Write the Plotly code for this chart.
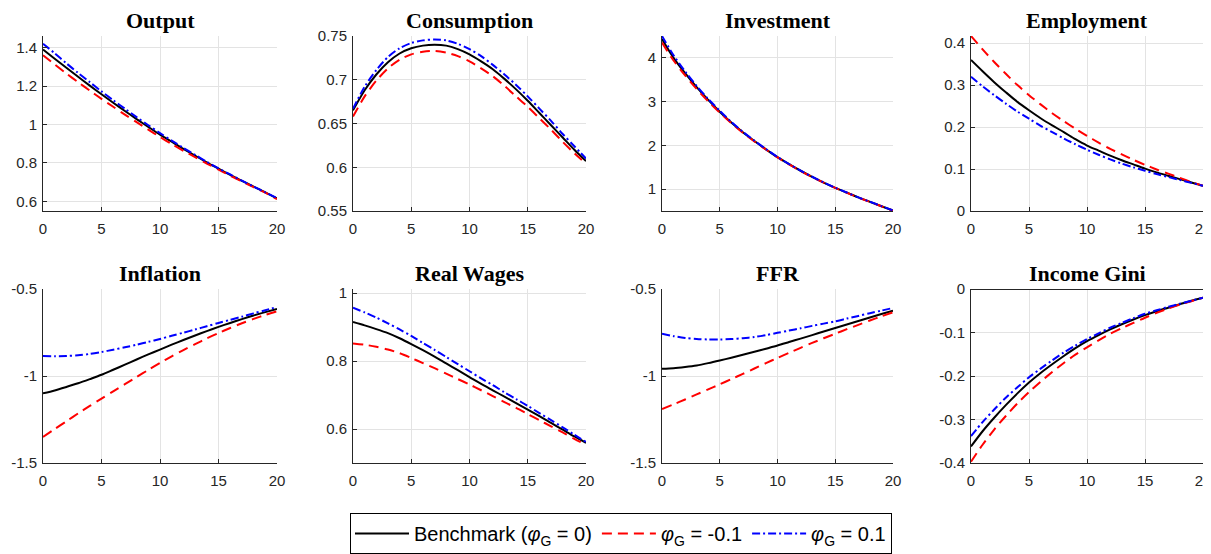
import plotly.graph_objects as go

horizon = list(range(21))
titles = ["Output", "Consumption", "Investment", "Employment",
          "Inflation", "Real Wages", "FFR", "Income Gini"]

# Benchmark (phi_G = 0), phi_G = -0.1, phi_G = 0.1
output_bench = [1.39,1.342,1.295,1.248,1.202,1.157,1.113,1.07,1.028,0.987,0.947,0.91,0.873,0.838,0.803,0.77,0.738,0.707,0.677,0.647,0.615]
output_neg = [1.36,1.312,1.265,1.22,1.176,1.133,1.092,1.051,1.012,0.973,0.935,0.898,0.863,0.83,0.797,0.765,0.734,0.704,0.674,0.645,0.612]
output_pos = [1.42,1.37,1.318,1.268,1.22,1.172,1.126,1.082,1.038,0.996,0.955,0.916,0.878,0.842,0.806,0.772,0.74,0.708,0.677,0.647,0.617]

cons_bench = [0.665,0.688,0.706,0.72,0.73,0.736,0.739,0.74,0.739,0.735,0.729,0.721,0.712,0.701,0.689,0.676,0.662,0.648,0.634,0.62,0.607]
cons_neg = [0.658,0.681,0.699,0.713,0.723,0.729,0.732,0.733,0.731,0.727,0.721,0.713,0.704,0.693,0.681,0.669,0.656,0.643,0.629,0.616,0.604]
cons_pos = [0.667,0.692,0.711,0.726,0.736,0.742,0.745,0.746,0.745,0.741,0.735,0.727,0.717,0.706,0.694,0.681,0.667,0.653,0.638,0.624,0.61]

inv_bench = [4.43,4.0,3.65,3.33,3.04,2.77,2.52,2.3,2.1,1.91,1.73,1.57,1.42,1.28,1.15,1.03,0.92,0.81,0.71,0.61,0.51]
inv_neg = [4.35,3.94,3.6,3.29,3.01,2.75,2.51,2.29,2.09,1.905,1.725,1.565,1.415,1.275,1.147,1.027,0.917,0.808,0.708,0.608,0.508]
inv_pos = [4.5,4.06,3.69,3.36,3.06,2.79,2.535,2.31,2.108,1.915,1.735,1.573,1.423,1.283,1.152,1.032,0.922,0.812,0.712,0.612,0.512]

emp_bench = [0.36,0.333,0.307,0.283,0.26,0.24,0.221,0.204,0.188,0.171,0.156,0.144,0.132,0.121,0.111,0.101,0.092,0.084,0.076,0.068,0.06]
emp_neg = [0.417,0.385,0.355,0.327,0.3,0.276,0.254,0.233,0.214,0.196,0.179,0.163,0.148,0.135,0.122,0.11,0.099,0.089,0.079,0.069,0.06]
emp_pos = [0.32,0.297,0.276,0.256,0.237,0.22,0.203,0.188,0.173,0.159,0.146,0.134,0.123,0.113,0.104,0.096,0.088,0.081,0.074,0.067,0.06]

infl_bench = [-1.10,-1.083,-1.063,-1.042,-1.018,-0.993,-0.964,-0.935,-0.905,-0.876,-0.848,-0.82,-0.793,-0.767,-0.742,-0.718,-0.695,-0.673,-0.652,-0.633,-0.615]
infl_neg = [-1.35,-1.305,-1.26,-1.215,-1.172,-1.13,-1.088,-1.047,-1.006,-0.965,-0.925,-0.887,-0.851,-0.817,-0.784,-0.753,-0.724,-0.697,-0.672,-0.649,-0.628]
infl_pos = [-0.885,-0.886,-0.885,-0.881,-0.873,-0.862,-0.849,-0.835,-0.82,-0.804,-0.787,-0.769,-0.751,-0.733,-0.714,-0.695,-0.677,-0.659,-0.64,-0.622,-0.603]

wage_bench = [0.915,0.905,0.894,0.882,0.867,0.85,0.832,0.813,0.793,0.773,0.753,0.733,0.714,0.695,0.676,0.657,0.638,0.618,0.598,0.578,0.559]
wage_neg = [0.852,0.848,0.842,0.834,0.823,0.809,0.794,0.779,0.763,0.747,0.731,0.714,0.697,0.679,0.662,0.644,0.626,0.608,0.59,0.571,0.553]
wage_pos = [0.957,0.943,0.928,0.911,0.893,0.874,0.853,0.833,0.812,0.791,0.77,0.749,0.729,0.708,0.688,0.668,0.647,0.626,0.605,0.583,0.562]

ffr_bench = [-0.958,-0.955,-0.948,-0.939,-0.926,-0.911,-0.895,-0.878,-0.861,-0.843,-0.825,-0.805,-0.785,-0.765,-0.744,-0.724,-0.704,-0.684,-0.664,-0.644,-0.625]
ffr_neg = [-1.19,-1.163,-1.135,-1.106,-1.077,-1.048,-1.018,-0.988,-0.957,-0.926,-0.896,-0.867,-0.838,-0.81,-0.783,-0.757,-0.731,-0.706,-0.681,-0.657,-0.634]
ffr_pos = [-0.757,-0.771,-0.781,-0.787,-0.79,-0.79,-0.788,-0.783,-0.776,-0.765,-0.752,-0.739,-0.726,-0.712,-0.699,-0.686,-0.67,-0.655,-0.639,-0.624,-0.609]

gini_bench = [-0.362,-0.327,-0.296,-0.267,-0.24,-0.215,-0.193,-0.173,-0.154,-0.136,-0.12,-0.106,-0.093,-0.081,-0.07,-0.06,-0.051,-0.043,-0.035,-0.027,-0.02]
gini_neg = [-0.397,-0.358,-0.323,-0.292,-0.263,-0.237,-0.213,-0.191,-0.17,-0.151,-0.134,-0.118,-0.103,-0.09,-0.078,-0.066,-0.055,-0.045,-0.036,-0.028,-0.02]
gini_pos = [-0.338,-0.306,-0.277,-0.25,-0.226,-0.203,-0.183,-0.164,-0.146,-0.13,-0.115,-0.102,-0.089,-0.078,-0.067,-0.057,-0.049,-0.041,-0.034,-0.027,-0.02]

y_ranges = [[0.55, 1.46], [0.55, 0.75], [0.5, 4.5], [0, 0.417],
            [-1.5, -0.5], [0.5, 1.012], [-1.5, -0.5], [-0.4, 0]]
y_ticks = [[0.6, 0.8, 1, 1.2, 1.4], [0.55, 0.6, 0.65, 0.7, 0.75], [1, 2, 3, 4], [0, 0.1, 0.2, 0.3, 0.4],
           [-1.5, -1, -0.5], [0.6, 0.8, 1], [-1.5, -1, -0.5], [-0.4, -0.3, -0.2, -0.1, 0]]
x_ticks = [0, 5, 10, 15, 20]

series = [
    (output_bench, output_neg, output_pos),
    (cons_bench, cons_neg, cons_pos),
    (inv_bench, inv_neg, inv_pos),
    (emp_bench, emp_neg, emp_pos),
    (infl_bench, infl_neg, infl_pos),
    (wage_bench, wage_neg, wage_pos),
    (ffr_bench, ffr_neg, ffr_pos),
    (gini_bench, gini_neg, gini_pos),
]
legend_names = ["Benchmark (<i>φ</i><sub>G</sub> = 0)",
                "<i>φ</i><sub>G</sub> = -0.1",
                "<i>φ</i><sub>G</sub> = 0.1"]
line_styles = [dict(color="#000000", width=2, dash="solid", shape="spline", smoothing=0.8),
               dict(color="#ff0000", width=2, dash="10px,6px", shape="spline", smoothing=0.8),
               dict(color="#0000ff", width=2, dash="8px,3px,2px,3px", shape="spline", smoothing=0.8)]

# the page body adds an 8px offset, so the figure is laid out in page px minus 8
OFF = 8
W, H = 1211 - OFF, 554 - OFF
col_px = [(43, 277), (353, 586), (662, 893), (971, 1203)]
row_px = [(36, 211), (289, 463)]

fig = go.Figure()
layout = dict(
    width=W, height=H, margin=dict(l=0, r=0, t=0, b=0, autoexpand=False),
    paper_bgcolor="white", plot_bgcolor="white",
    font=dict(family="Liberation Sans, Arial, sans-serif", size=15, color="#262626"),
    showlegend=True,
    legend=dict(orientation="h", x=(621 - OFF) / W, xanchor="center", y=0.0, yanchor="bottom",
                bordercolor="#000000", borderwidth=1, bgcolor="white",
                font=dict(size=20, color="#000000"), itemwidth=54, tracegroupgap=0),
)
annotations = []
for i in range(8):
    r, c = divmod(i, 4)
    ax = "" if i == 0 else str(i + 1)
    x0, x1 = (v - OFF for v in col_px[c])
    y0, y1 = (v - OFF for v in row_px[r])
    axis_common = dict(showline=True, linecolor="#262626", linewidth=1, ticks="inside",
                       ticklen=4, tickcolor="#262626", showgrid=True, gridcolor="#e3e3e3",
                       gridwidth=1, tickfont=dict(size=15, color="#262626"), automargin=False,
                       ticklabeloverflow="allow")
    layout["xaxis" + ax] = dict(domain=[x0 / W, x1 / W], anchor="y" + ax, range=[0, 20],
                                tickvals=x_ticks, ticktext=["%g" % v for v in x_ticks],
                                zeroline=False, ticklabelstandoff=4, **axis_common)
    layout["yaxis" + ax] = dict(domain=[1 - y1 / H, 1 - y0 / H], anchor="x" + ax,
                                range=y_ranges[i], tickvals=y_ticks[i],
                                ticktext=["%g" % v for v in y_ticks[i]], ticklabelstandoff=2,
                                zeroline=True, zerolinecolor="#262626", zerolinewidth=1,
                                **axis_common)
    for k in range(3):
        fig.add_trace(go.Scatter(x=horizon, y=series[i][k], mode="lines",
                                 line=line_styles[k], name=legend_names[k],
                                 showlegend=(i == 0), xaxis="x" + ax, yaxis="y" + ax,
                                 legendgroup=str(k)))
    annotations.append(dict(text="<b>%s</b>" % titles[i], x=(x0 + x1) / 2 / W,
                            y=1 - (y0 - 16) / H, xref="paper", yref="paper",
                            xanchor="center", yanchor="middle", showarrow=False,
                            font=dict(family="Liberation Serif, Times New Roman, serif",
                                      size=22, color="#000000")))
layout["annotations"] = annotations
fig.update_layout(**layout)
fig.write_html("out.html")
